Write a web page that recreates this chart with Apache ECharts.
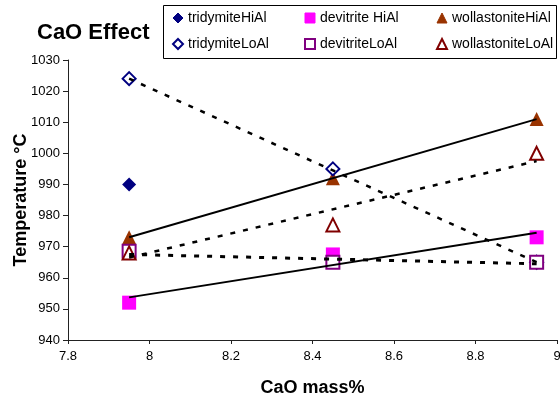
<!DOCTYPE html>
<html>
<head>
<meta charset="utf-8">
<script src="https://cdn.jsdelivr.net/npm/echarts@6/dist/echarts.min.js"></script>
<style>
  html, body { margin: 0; padding: 0; background: #fff; }
  #chart { width: 560px; height: 398px; }
</style>
</head>
<body>
<div id="chart"></div>
<script>
// CaO mass% of the three glasses
const caoMass = [7.95, 8.45, 8.95];
const tridymiteHiAlX = [7.95];

// liquidus temperatures, degrees C
const tridymiteHiAl = [990];
const tridymiteLoAl = [1024, 995, 965];
const devitriteHiAl = [952, 967.5, 973];
const devitriteLoAl = [968.5, 965, 965];
const wollastoniteHiAl = [973, 992, 1011];
const wollastoniteLoAl = [968, 977, 1000];

// linear trend lines, end points
const trendX = [7.95, 8.95];
const trendTridymiteLoAl = [1024, 965];
const trendDevitriteHiAl = [953.7, 974.5];
const trendDevitriteLoAl = [967.5, 964.5];
const trendWollastoniteHiAl = [973, 1011];
const trendWollastoniteLoAl = [966.5, 997.5];

const font = '"Liberation Sans", Arial, sans-serif';

const zip = (xs, ys) => ys.map((y, i) => [xs[i], y]);

const chart = echarts.init(document.getElementById('chart'));

const scatter = (name, xs, ys, symbol, color) => {
  const empty = symbol.startsWith('empty');
  return {
    name,
    type: 'scatter',
    data: zip(xs, ys),
    symbol,
    symbolSize: empty ? 13 : 14,
    itemStyle: { color, borderColor: color, borderWidth: empty ? 1 : 0, opacity: 1 },
    z: 2
  };
};

const trend = (ys, lineType, width) => ({
  type: 'line',
  data: zip(trendX, ys),
  symbol: 'none',
  silent: true,
  lineStyle: { color: '#000', width, type: lineType },
  z: 3
});

const legendBase = {
  orient: 'vertical',
  top: 11,
  padding: 0,
  itemWidth: 10,
  itemHeight: 10,
  itemGap: 12,
  selectedMode: false,
  itemStyle: { borderWidth: 1 },
  textStyle: { fontFamily: font, fontSize: 14, color: '#000' }
};

chart.setOption({
  backgroundColor: '#fff',
  animation: false,
  title: {
    text: 'CaO Effect',
    left: 37,
    top: 22,
    padding: 0,
    textStyle: { fontFamily: font, fontSize: 22, fontWeight: 'bold', color: '#000' }
  },
  graphic: [{
    type: 'rect',
    shape: { x: 163.5, y: 5.5, width: 393, height: 53 },
    style: { fill: '#fff', stroke: '#000', lineWidth: 1 },
    z: 0
  }],
  legend: [
    Object.assign({}, legendBase, {
      left: 172,
      data: [{ name: 'tridymiteHiAl', icon: 'diamond' }, { name: 'tridymiteLoAl', icon: 'emptyDiamond' }]
    }),
    Object.assign({}, legendBase, {
      left: 304,
      data: [{ name: 'devitrite HiAl', icon: 'rect' }, { name: 'devitriteLoAl', icon: 'emptyRect' }]
    }),
    Object.assign({}, legendBase, {
      left: 436,
      data: [{ name: 'wollastoniteHiAl', icon: 'triangle' }, { name: 'wollastoniteLoAl', icon: 'emptyTriangle' }]
    })
  ],
  grid: { left: 68, right: 3, top: 60, bottom: 58, containLabel: false, outerBoundsMode: 'none' },
  xAxis: {
    type: 'value',
    min: 7.8,
    max: 9,
    interval: 0.2,
    name: 'CaO mass%',
    nameLocation: 'middle',
    nameGap: 39,
    nameMoveOverlap: false,
    nameTextStyle: { fontFamily: font, fontSize: 18, fontWeight: 'bold', color: '#000' },
    axisLine: { show: true, lineStyle: { color: '#222', width: 1 } },
    axisTick: { show: true, length: 4, lineStyle: { color: '#222' } },
    axisLabel: { fontFamily: font, fontSize: 13, color: '#000', margin: 10, hideOverlap: false },
    splitLine: { show: false }
  },
  yAxis: {
    type: 'value',
    min: 940,
    max: 1030,
    interval: 10,
    name: 'Temperature °C',
    nameLocation: 'middle',
    nameGap: 38,
    nameMoveOverlap: false,
    nameTextStyle: { fontFamily: font, fontSize: 18, fontWeight: 'bold', color: '#000' },
    axisLine: { show: true, lineStyle: { color: '#222', width: 1 } },
    axisTick: { show: true, length: 5, lineStyle: { color: '#222' } },
    axisLabel: { fontFamily: font, fontSize: 13, color: '#000', margin: 8, formatter: (v) => String(v) },
    splitLine: { show: false }
  },
  series: [
    scatter('tridymiteHiAl', tridymiteHiAlX, tridymiteHiAl, 'diamond', '#000080'),
    scatter('devitrite HiAl', caoMass, devitriteHiAl, 'rect', '#ff00ff'),
    scatter('wollastoniteHiAl', caoMass, wollastoniteHiAl, 'triangle', '#993300'),
    scatter('tridymiteLoAl', caoMass, tridymiteLoAl, 'emptyDiamond', '#000080'),
    scatter('devitriteLoAl', caoMass, devitriteLoAl, 'emptyRect', '#800080'),
    scatter('wollastoniteLoAl', caoMass, wollastoniteLoAl, 'emptyTriangle', '#800000'),
    trend(trendWollastoniteHiAl, 'solid', 2),
    trend(trendDevitriteHiAl, 'solid', 2),
    trend(trendTridymiteLoAl, [5, 8], 2.5),
    trend(trendWollastoniteLoAl, [5, 8], 2.5),
    trend(trendDevitriteLoAl, [5, 8], 3)
  ]
});
</script>
</body>
</html>
